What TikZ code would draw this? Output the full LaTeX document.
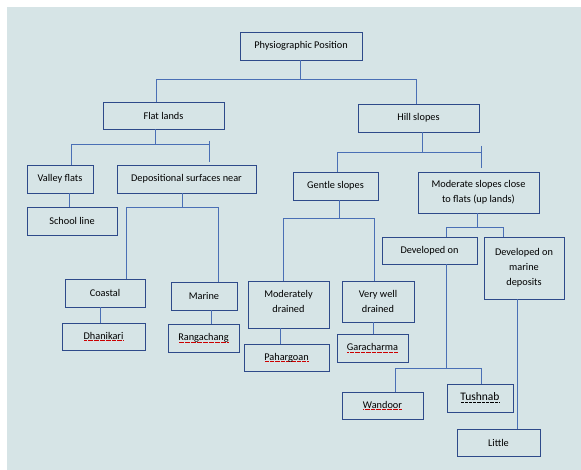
\documentclass[tikz,border=0pt]{standalone}
\usepackage{fontspec}
\setmainfont{Carlito}
\newsavebox\ulbox
\newcommand\spellu[1]{\sbox\ulbox{#1}\rlap{\lower1.8pt\hbox to\wd\ulbox{\color{red!80!black}\xleaders\hbox{\kern0.35pt\rule{0.5pt}{0.5pt}\kern0.35pt}\hfill}}\usebox\ulbox}
\newcommand\blacku[1]{\sbox\ulbox{#1}\rlap{\lower2pt\hbox to\wd\ulbox{\xleaders\hbox{\kern0.4pt\rule{0.5pt}{0.5pt}\kern0.4pt}\hfill}}\usebox\ulbox}
\definecolor{bgc}{HTML}{D6E4E6}
\definecolor{boxc}{HTML}{2E4A8A}
\definecolor{linec}{HTML}{4A6FB5}
\tikzset{
  box/.style={draw=boxc, line width=0.9pt, rectangle, inner sep=0pt, align=center,
    font=\fontsize{10.3}{15}\selectfont, text=black},
  conn/.style={draw=linec, line width=0.9pt}
}
\begin{document}
\begin{tikzpicture}[x=1pt,y=-1pt]
\useasboundingbox (0,0) rectangle (581,470);
\fill[white] (0,0) rectangle (581,470);
\fill[bgc] (7,7) rectangle (581,470);
% nodes
\node[box, minimum width=122, minimum height=28] (root) at (301,46) {Physiographic Position};
\node[box, minimum width=121, minimum height=27] (flat) at (163.5,115.5) {Flat lands};
\node[box, minimum width=121, minimum height=28] (hill) at (418.5,118) {Hill slopes};
\node[box, minimum width=66, minimum height=28] (valley) at (60,179) {Valley flats};
\node[box, minimum width=139, minimum height=28] (depos) at (186.5,179) {Depositional surfaces near};
\node[box, minimum width=90, minimum height=28] (school) at (72,221) {School line};
\node[box, minimum width=80, minimum height=28] (coastal) at (105,293) {Coastal};
\node[box, minimum width=83, minimum height=27] (dhanikari) at (103.5,336.5) {\spellu{Dhanikari}};
\node[box, minimum width=66, minimum height=28] (marine) at (204,296) {Marine};
\node[box, minimum width=71, minimum height=28] (rangachang) at (203.5,338) {\spellu{Rangachang}};
\node[box, minimum width=85, minimum height=28] (gentle) at (335.5,186) {Gentle slopes};
\node[box, minimum width=121, minimum height=41] (moderate) at (478.5,192.5) {Moderate slopes close\\to flats (up lands)};
\node[box, minimum width=81, minimum height=47, text depth=6pt] (moddrained) at (288.5,304.5) {Moderately\\drained};
\node[box, minimum width=85, minimum height=27] (pahargoan) at (286.5,357.5) {\spellu{Pahargoan}};
\node[box, minimum width=72, minimum height=41] (verywell) at (378,301.5) {Very well\\drained};
\node[box, minimum width=71, minimum height=28] (garacharma) at (372.5,348) {\spellu{Garacharma}};
\node[box, minimum width=95, minimum height=27] (devon) at (429.5,250.5) {Developed on};
\node[box, minimum width=80, minimum height=62] (devmarine) at (524,268) {Developed on\\marine\\deposits};
\node[box, minimum width=81, minimum height=27] (wandoor) at (382.5,405.5) {\spellu{Wandoor}};
\node[box, minimum width=66, minimum height=28, font=\fontsize{11.5}{15}\selectfont] (tushnab) at (480,398) {\blacku{Tushnab}};
\node[box, minimum width=83, minimum height=27] (little) at (498.5,442.5) {Little};
% connectors
\draw[conn] (root.south -| 300,0) -- (300,79);
\draw[conn] (flat.north -| 156,0) -- (156,79) -- (416,79) -- (hill.north -| 416,0);
\draw[conn] (flat.south -| 155,0) -- (155,144);
\draw[conn] (valley.north -| 71,0) -- (71,144) -- (209,144);
\coordinate (t1) at (209,162);
\draw[conn] (209,141) -- (t1);
\draw[conn] (valley.south -| 69,0) -- (school.north -| 69,0);
\draw[conn] (depos.south -| 182,0) -- (182,207);
\draw[conn] (coastal.north -| 126,0) -- (126,207) -- (218,207) -- (marine.north -| 218,0);
\draw[conn] (coastal.south -| 100,0) -- (dhanikari.north -| 100,0);
\draw[conn] (marine.south -| 211,0) -- (rangachang.north -| 211,0);
\draw[conn] (hill.south -| 422,0) -- (422,152);
\draw[conn] (gentle.north -| 337,0) -- (337,152) -- (481,152);
\coordinate (t2) at (481,168);
\draw[conn] (481,146) -- (t2);
\draw[conn] (gentle.south -| 339,0) -- (339,218);
\draw[conn] (moddrained.north -| 283,0) -- (283,218) -- (374,218) -- (verywell.north -| 374,0);
\draw[conn] (moddrained.south -| 280,0) -- (pahargoan.north -| 280,0);
\draw[conn] (verywell.south -| 373,0) -- (garacharma.north -| 373,0);
\draw[conn] (moderate.south -| 477,0) -- (477,227);
\draw[conn] (devon.north -| 446,0) -- (446,227) -- (503,227) -- (devmarine.north -| 503,0);
\draw[conn] (devon.south -| 446,0) -- (446,368);
\draw[conn] (wandoor.north -| 395,0) -- (395,368) -- (481,368) -- (tushnab.north -| 481,0);
\draw[conn] (devmarine.south -| 517,0) -- (little.north -| 517,0);
\end{tikzpicture}
\end{document}
